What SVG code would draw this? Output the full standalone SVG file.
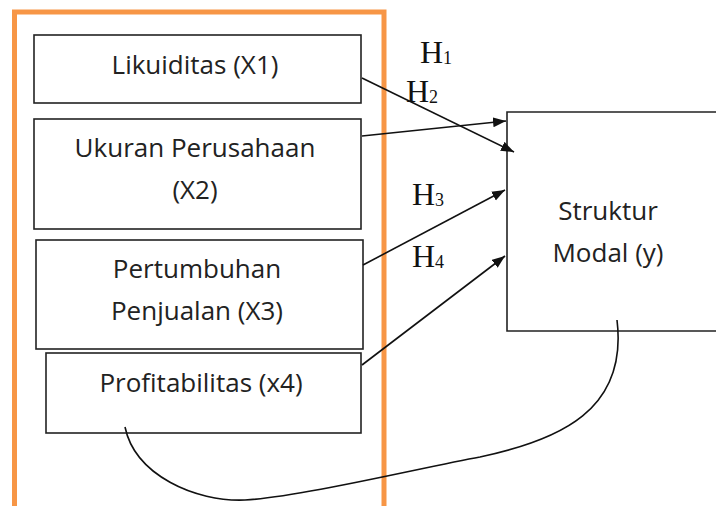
<svg xmlns="http://www.w3.org/2000/svg" width="716" height="506" viewBox="0 0 716 506">
<style>
.box{fill:#fff;stroke:#222;stroke-width:1.6}
.lbl{font-family:"Open Sans","Noto Sans","Liberation Sans",sans-serif;font-size:26px;fill:#222;text-anchor:middle}
.h{font-family:"Liberation Serif","Times New Roman",serif;font-size:32px;fill:#111}
.h tspan{font-size:18px}
.con{fill:none;stroke:#111;stroke-width:1.6}
</style>
<defs>
<marker id="arr" markerUnits="userSpaceOnUse" markerWidth="14" markerHeight="11" refX="13" refY="5" orient="auto">
<path d="M0,0 L13,5 L0,10 z" fill="#111"/>
</marker>
</defs>
<rect width="716" height="506" fill="#fff"/>
<g id="frame">
<path d="M14.5,520 V12 H384 V520" fill="none" stroke="#F79646" stroke-width="5"/>
</g>
<g id="n1"><rect class="box" x="34" y="35" width="327" height="68"/><text class="lbl" x="195" y="74">Likuiditas (X1)</text></g>
<g id="n2"><rect class="box" x="34" y="119" width="327" height="110"/><text class="lbl" x="195" y="157">Ukuran Perusahaan</text><text class="lbl" x="195" y="199">(X2)</text></g>
<g id="n3"><rect class="box" x="36" y="240" width="327" height="109"/><text class="lbl" x="197" y="278">Pertumbuhan</text><text class="lbl" x="197" y="320">Penjualan (X3)</text></g>
<g id="n4"><rect class="box" x="46" y="353" width="315" height="80"/><text class="lbl" x="201" y="392">Profitabilitas (x4)</text></g>
<g id="ny"><path class="box" d="M722,112 H507 V331 H722"/><text class="lbl" x="608" y="220">Struktur</text><text class="lbl" x="608" y="262">Modal (y)</text></g>
<g id="connectors">
<line class="con" x1="362" y1="78" x2="514" y2="152" marker-end="url(#arr)"/>
<line class="con" x1="362" y1="136" x2="506" y2="121" marker-end="url(#arr)"/>
<line class="con" x1="363" y1="265" x2="505" y2="190" marker-end="url(#arr)"/>
<line class="con" x1="362" y1="365" x2="505" y2="256" marker-end="url(#arr)"/>
<path class="con" d="M125,427 C135,475 195,502 245,500 C300,497 420,468 480,457 C560,440 628,410 617,320"/>
</g>
<g id="labels">
<text class="h" x="420" y="63">H<tspan dy="1">1</tspan></text>
<text class="h" x="406" y="102">H<tspan dy="1">2</tspan></text>
<text class="h" x="412" y="205">H<tspan dy="1">3</tspan></text>
<text class="h" x="412" y="267">H<tspan dy="1">4</tspan></text>
</g>
</svg>
